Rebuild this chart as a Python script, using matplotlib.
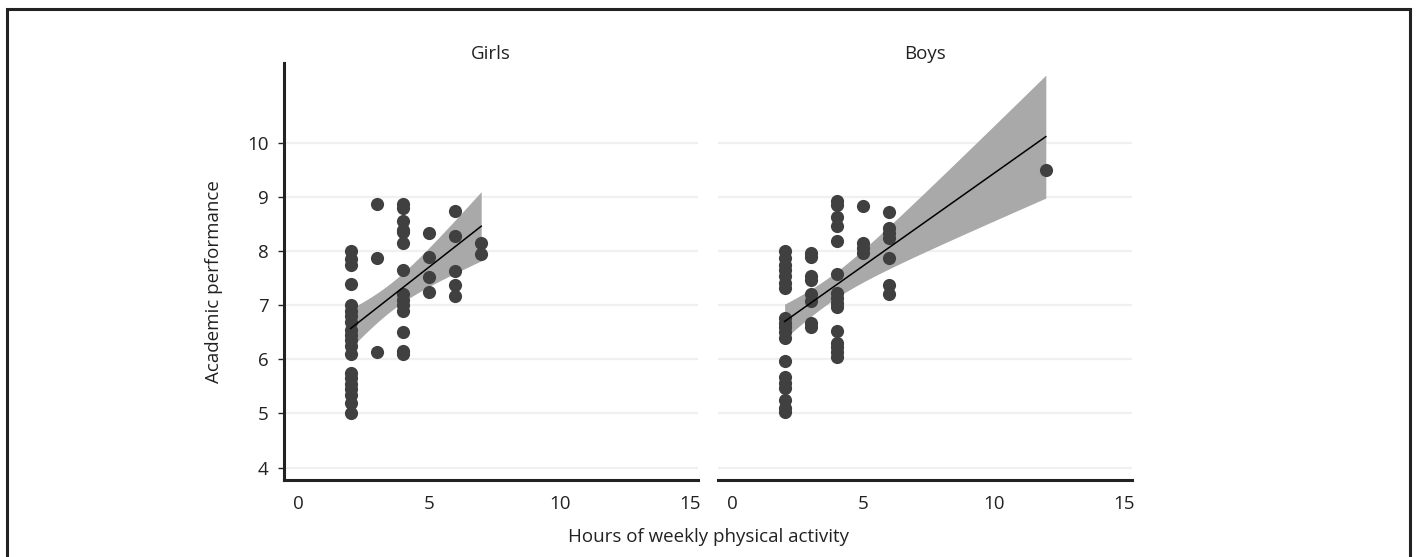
import numpy as np
import matplotlib
matplotlib.use("Agg")
import matplotlib.pyplot as plt
from matplotlib.patches import Rectangle

plt.rcParams['font.family'] = ['Open Sans', 'DejaVu Sans']

# Girls: hours of weekly physical activity vs academic performance
girls_hours = ([2] * 20 + [3] * 3 + [4] * 14 + [5] * 4 + [6] * 5 + [7] * 2)
girls_score = [8.0, 7.85, 7.75, 7.4, 7.0, 6.9, 6.8, 6.7, 6.55, 6.45, 6.35, 6.25, 6.1,
               5.75, 5.65, 5.55, 5.45, 5.35, 5.2, 5.0,
               8.88, 7.88, 6.14,
               8.88, 8.8, 8.55, 8.4, 8.35, 8.15, 7.65, 7.2, 7.1, 7.0, 6.9, 6.5, 6.15, 6.1,
               8.34, 7.9, 7.53, 7.24,
               8.75, 8.29, 7.63, 7.37, 7.18,
               8.15, 7.95]

# Boys
boys_hours = ([2] * 19 + [3] * 8 + [4] * 15 + [5] * 4 + [6] * 7 + [12])
boys_score = [8.0, 7.88, 7.75, 7.66, 7.54, 7.42, 7.32, 6.77, 6.68, 6.59, 6.5, 6.4,
              5.97, 5.67, 5.57, 5.48, 5.24, 5.11, 5.02,
              7.97, 7.9, 7.54, 7.46, 7.2, 7.08, 6.68, 6.59,
              8.92, 8.86, 8.64, 8.46, 8.18, 7.58, 7.23, 7.14, 7.05, 6.96, 6.52, 6.31, 6.22, 6.13, 6.04,
              8.83, 8.15, 8.06, 7.97,
              8.73, 8.43, 8.34, 8.24, 7.88, 7.37, 7.2,
              9.5]

panels = [("Girls", girls_hours, girls_score), ("Boys", boys_hours, boys_score)]
y_ticks = [4, 5, 6, 7, 8, 9, 10]
x_ticks = [0, 5, 10, 15]

dot_color = '#404040'
band_color = '#a9a9a9'
ink = '#222222'
fs = 13.5


def fit_band(x, y, n=100):
    # linear fit with 95% confidence band
    x = np.asarray(x, float)
    y = np.asarray(y, float)
    b, a = np.polyfit(x, y, 1)
    xs = np.linspace(x.min(), x.max(), n)
    ys = a + b * xs
    resid = y - (a + b * x)
    s = np.sqrt(np.sum(resid ** 2) / (len(x) - 2))
    se = s * np.sqrt(1 / len(x) + (xs - x.mean()) ** 2 / np.sum((x - x.mean()) ** 2))
    return xs, ys, ys - 1.99 * se, ys + 1.99 * se


fig = plt.figure(figsize=(14.16, 5.57), dpi=100)

# outer frame
fig.patches.append(Rectangle((7 / 1416, -0.1), 1403 / 1416, 1.1 - 9 / 557,
                             transform=fig.transFigure, fill=False,
                             edgecolor=ink, linewidth=2.2))

ax_l = fig.add_axes([284 / 1416, 1 - 480 / 557, 414 / 1416, 417 / 557])
ax_r = fig.add_axes([718 / 1416, 1 - 480 / 557, 414 / 1416, 417 / 557], sharey=ax_l)

for ax, (name, hx, sy) in zip([ax_l, ax_r], panels):
    xs, ys, lo, hi = fit_band(hx, sy)
    ax.fill_between(xs, lo, hi, color=band_color, linewidth=0, zorder=2)
    ax.scatter(hx, sy, s=90, color=dot_color, linewidths=0, zorder=3)
    ax.plot(xs, ys, color='black', linewidth=1.1, zorder=4)

    ax.set_xlim(-0.55, 15.3)
    ax.set_ylim(3.77, 11.48)
    ax.set_xticks(x_ticks)
    ax.set_yticks(y_ticks)
    for t in y_ticks:
        ax.axhline(t, color='#f0f0f0', linewidth=1.6, zorder=0)
    ax.set_title(name, fontsize=fs, pad=1.5, color=ink)
    for side in ['top', 'right']:
        ax.spines[side].set_visible(False)
    ax.spines['bottom'].set_linewidth(2.2)
    ax.spines['bottom'].set_color(ink)
    ax.tick_params(axis='x', length=0, pad=11, labelsize=fs, colors=ink)
    ax.tick_params(axis='y', length=4, width=1, pad=7, labelsize=fs, colors=ink)

ax_l.spines['left'].set_linewidth(2.2)
ax_l.spines['left'].set_color(ink)
ax_r.spines['left'].set_visible(False)
ax_r.tick_params(axis='y', left=False, labelleft=False)

fig.text(214 / 1416, 1 - 282 / 557, "Academic performance", rotation=90,
         fontsize=fs, ha='center', va='center', color=ink)
fig.text(708 / 1416, 1 - 537 / 557, "Hours of weekly physical activity",
         fontsize=fs, ha='center', va='center', color=ink)

fig.savefig("out.png", dpi=100)
